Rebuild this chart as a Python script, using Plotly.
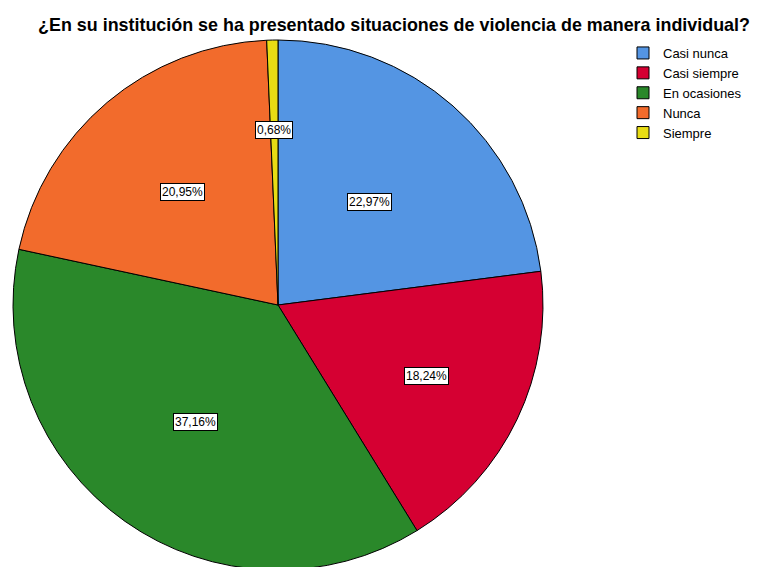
import math
import plotly.graph_objects as go

categories = ["Casi nunca", "Casi siempre", "En ocasiones", "Nunca", "Siempre"]
percentages = [22.97, 18.24, 37.16, 20.95, 0.68]
label_texts = ["22,97%", "18,24%", "37,16%", "20,95%", "0,68%"]
colors = ["#5495E3", "#D50032", "#2A882A", "#F26B2C", "#E8DC14"]
title_text = "¿En su institución se ha presentado situaciones de violencia de manera individual?"

W, H = 762, 567
# page body has an 8px offset; targets below are in figure pixels
cx_px, cy_px = 270, 297
radius_px = 265

dom_x = [(cx_px - radius_px) / W, (cx_px + radius_px) / W]
dom_y = [1 - (cy_px + radius_px) / H, 1 - (cy_px - radius_px) / H]

fig = go.Figure()
fig.add_trace(go.Pie(
    labels=categories,
    values=percentages,
    sort=False,
    direction="clockwise",
    rotation=0,
    textinfo="none",
    hoverinfo="label+percent",
    marker=dict(colors=colors, line=dict(color="#000000", width=1)),
    domain=dict(x=dom_x, y=dom_y),
))

# label positions derived from slice mid-angles
label_frac = [0.52, 0.62, 0.54, 0.56, 0.66]
annotations = []
total = sum(percentages)
cum = 0
for val, txt, f in zip(percentages, label_texts, label_frac):
    mid = (cum + val / 2) / total * 2 * math.pi
    cum += val
    px = cx_px + f * radius_px * math.sin(mid)
    py = cy_px - f * radius_px * math.cos(mid)
    annotations.append(dict(
        x=px / W, y=1 - py / H, xref="paper", yref="paper",
        xanchor="center", yanchor="middle",
        text=txt, showarrow=False,
        font=dict(family="Liberation Sans, Arial", size=12, color="#000000"),
        bgcolor="#FFFFFF", bordercolor="#000000", borderwidth=1, borderpad=1,
    ))

fig.update_layout(
    width=W, height=H,
    margin=dict(l=0, r=0, t=0, b=0),
    paper_bgcolor="#FFFFFF",
    plot_bgcolor="#FFFFFF",
    title=dict(
        text="<b>" + title_text + "</b>",
        x=386 / W, xanchor="center",
        y=1 - 17 / H, yanchor="middle",
        font=dict(family="Liberation Sans, Arial", size=17.9, color="#000000"),
    ),
    showlegend=True,
    legend=dict(
        x=615 / W, xanchor="left",
        y=1 - 30 / H, yanchor="top",
        font=dict(family="Liberation Sans, Arial", size=13, color="#000000"),
        bgcolor="rgba(0,0,0,0)",
        tracegroupgap=0,
        itemwidth=30,
    ),
    annotations=annotations,
)

fig.write_html("out.html")
